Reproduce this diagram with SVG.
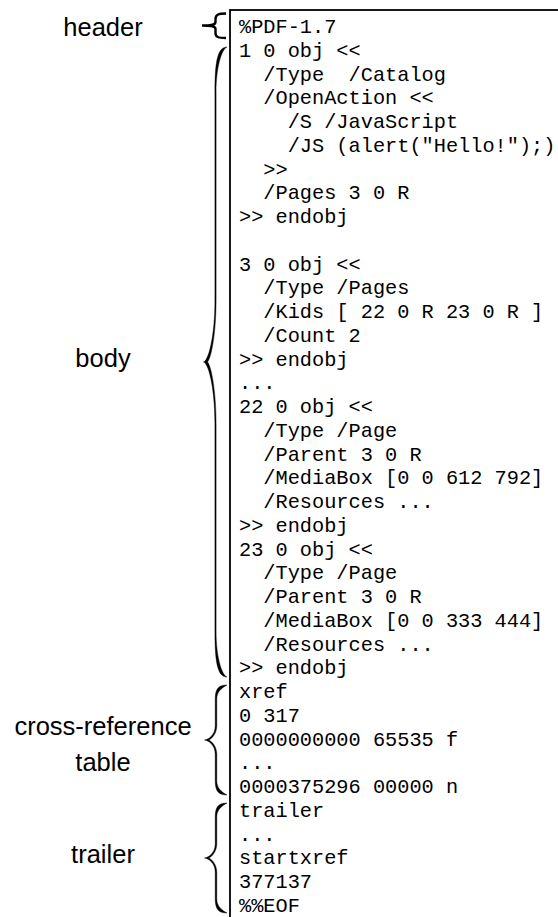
<svg xmlns="http://www.w3.org/2000/svg" width="558" height="917" viewBox="0 0 558 917" xml:space="preserve">
<style>
.code{font-family:"Liberation Mono","DejaVu Sans Mono",monospace;font-size:20.3px;fill:#000;white-space:pre}
.lbl{font-family:"Liberation Sans","DejaVu Sans",sans-serif;font-size:25.5px;fill:#000;text-anchor:middle}
.brace{fill:#000;stroke:#000;stroke-width:0.4}
</style>
<rect width="558" height="917" fill="#fff"/>
<g id="code-box">
<rect x="230" y="10" width="400" height="1000" fill="none" stroke="#000" stroke-width="1.8"/>
<text class="code" x="239" y="33">%PDF-1.7</text>
<text class="code" x="239" y="56.75">1 0 obj &lt;&lt;</text>
<text class="code" x="239" y="80.5">  /Type  /Catalog</text>
<text class="code" x="239" y="104.25">  /OpenAction &lt;&lt;</text>
<text class="code" x="239" y="128">    /S /JavaScript</text>
<text class="code" x="239" y="151.75">    /JS (alert("Hello!");)</text>
<text class="code" x="239" y="175.5">  &gt;&gt;</text>
<text class="code" x="239" y="199.25">  /Pages 3 0 R</text>
<text class="code" x="239" y="223">&gt;&gt; endobj</text>
<text class="code" x="239" y="270.5">3 0 obj &lt;&lt;</text>
<text class="code" x="239" y="294.25">  /Type /Pages</text>
<text class="code" x="239" y="318">  /Kids [ 22 0 R 23 0 R ]</text>
<text class="code" x="239" y="341.75">  /Count 2</text>
<text class="code" x="239" y="365.5">&gt;&gt; endobj</text>
<text class="code" x="239" y="389.25">...</text>
<text class="code" x="239" y="413">22 0 obj &lt;&lt;</text>
<text class="code" x="239" y="436.75">  /Type /Page</text>
<text class="code" x="239" y="460.5">  /Parent 3 0 R</text>
<text class="code" x="239" y="484.25">  /MediaBox [0 0 612 792]</text>
<text class="code" x="239" y="508">  /Resources ...</text>
<text class="code" x="239" y="531.75">&gt;&gt; endobj</text>
<text class="code" x="239" y="555.5">23 0 obj &lt;&lt;</text>
<text class="code" x="239" y="579.25">  /Type /Page</text>
<text class="code" x="239" y="603">  /Parent 3 0 R</text>
<text class="code" x="239" y="626.75">  /MediaBox [0 0 333 444]</text>
<text class="code" x="239" y="650.5">  /Resources ...</text>
<text class="code" x="239" y="674.25">&gt;&gt; endobj</text>
<text class="code" x="239" y="698">xref</text>
<text class="code" x="239" y="721.75">0 317</text>
<text class="code" x="239" y="745.5">0000000000 65535 f</text>
<text class="code" x="239" y="769.25">...</text>
<text class="code" x="239" y="793">0000375296 00000 n</text>
<text class="code" x="239" y="816.75">trailer</text>
<text class="code" x="239" y="840.5">...</text>
<text class="code" x="239" y="864.25">startxref</text>
<text class="code" x="239" y="888">377137</text>
<text class="code" x="239" y="911.75">%%EOF</text>
</g>
<g id="header"><text class="lbl" x="103" y="36">header</text></g>
<g id="body"><text class="lbl" x="103" y="367">body</text></g>
<g id="xref"><text class="lbl" x="103" y="735">cross-reference</text><text class="lbl" x="103" y="771">table</text></g>
<g id="trailer"><text class="lbl" x="103" y="863">trailer</text></g>
<g id="connectors">
<path id="brace-header" d="M 226,13.5 C 218,13.5 215.5,15 215.5,19 L 215.5,22 C 215.5,24.5 213,25.5 202,25.5 C 213,25.5 215.5,26.5 215.5,29 L 215.5,33 C 215.5,37 218,38 226,38" fill="none" stroke="#000" stroke-width="2.4"/>
<path id="brace-body" class="brace" d="M 227,47 C 217.8,47 214.9,60.5 214.9,92 L 214.9,300 C 214.9,337 208.3,361 203.5,362 C 208.3,363 214.9,387 214.9,424 L 214.9,632 C 214.9,663.5 217.8,677 227,677 C 221,674.5 216.1,654.5 216.1,632 L 216.1,424 C 216.1,390 211,365 207.5,362 C 211,359 216.1,334 216.1,300 L 216.1,92 C 216.1,69.5 221,49.5 227,47 Z"/>
<path id="brace-xref" class="brace" d="M 227,685 C 218.2,685 215.2,689.2 215.2,699 L 215.2,726 C 215.2,734.4 209,739.5 204.5,740 C 209,740.5 215.2,745.6 215.2,754 L 215.2,781 C 215.2,790.8 218.2,795 227,795 C 221.5,792 216.8,788 216.8,781 L 216.8,754 C 216.8,747 212,741 208.5,740 C 212,739 216.8,733 216.8,726 L 216.8,699 C 216.8,692 221.5,688 227,685 Z"/>
<path id="brace-trailer" class="brace" d="M 227,803 C 218.2,803 215.2,807.2 215.2,817 L 215.2,844 C 215.2,852.4 209,857.5 204.5,858 C 209,858.5 215.2,863.6 215.2,872 L 215.2,899 C 215.2,908.8 218.2,913 227,913 C 221.5,910 216.8,906 216.8,899 L 216.8,872 C 216.8,865 212,859 208.5,858 C 212,857 216.8,851 216.8,844 L 216.8,817 C 216.8,810 221.5,806 227,803 Z"/>
</g>
</svg>
